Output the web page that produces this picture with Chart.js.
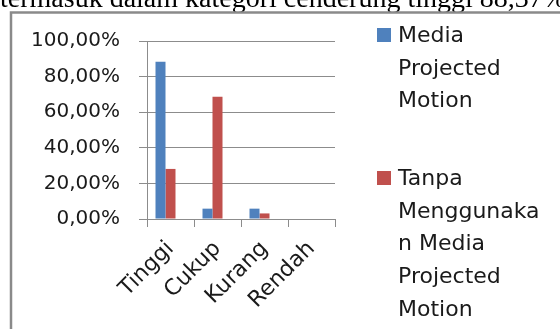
<!DOCTYPE html>
<html>
<head>
<meta charset="utf-8">
<script src="https://cdn.jsdelivr.net/npm/chart.js@4/dist/chart.umd.min.js"></script>
<style>
  html, body { margin: 0; padding: 0; background: #fff; overflow: hidden; }
  canvas { display: block; }
</style>
</head>
<body>
<canvas id="chart" width="560" height="329"></canvas>
<script>
// Categories and series values (percent)
const categories = ['Tinggi', 'Cukup', 'Kurang', 'Rendah'];
const mediaProjected = [88.37, 5.81, 5.81, 0];
const tanpaMedia = [28.13, 68.75, 3.13, 0];
// Third, empty column slot of the source worksheet (keeps the bar cluster placement)
const emptySlot = [null, null, null, null];

const seriesNames = ['Media Projected Motion', 'Tanpa Menggunakan Media Projected Motion'];
const legendLines = [
  ['Media', 'Projected', 'Motion'],
  ['Tanpa', 'Menggunaka', 'n Media', 'Projected', 'Motion']
];
const yTicks = [0, 20, 40, 60, 80, 100];
const captionText = 'termasuk dalam kategori cenderung tinggi 88,37%';

const gridColor = '#8c8c8c';
const textColor = '#1a1a1a';

function pct(v) {
  return v.toFixed(2).replace('.', ',') + '%';
}

// White page, caption line of the surrounding document and the chart frame
const framePlugin = {
  id: 'frame',
  beforeDraw(chart) {
    const ctx = chart.ctx;
    ctx.save();
    ctx.fillStyle = '#fff';
    ctx.fillRect(0, 0, chart.width, chart.height);
    ctx.fillStyle = '#000';
    ctx.font = '28px "Liberation Serif"';
    ctx.textBaseline = 'alphabetic';
    ctx.fillText(captionText, 0, 7);
    ctx.strokeStyle = '#8a8a8a';
    ctx.lineWidth = 2.5;
    ctx.beginPath();
    ctx.moveTo(11, chart.height + 2);
    ctx.lineTo(11, 12.5);
    ctx.lineTo(chart.width + 2, 12.5);
    ctx.stroke();
    ctx.restore();
  }
};

// Legend on the right with wrapped labels
const sideLegend = {
  id: 'sideLegend',
  afterDraw(chart) {
    const ctx = chart.ctx;
    const baselines = [42, 185];
    ctx.save();
    ctx.font = '22px "DejaVu Sans"';
    ctx.textBaseline = 'alphabetic';
    legendLines.forEach((lines, i) => {
      const ds = chart.data.datasets[i];
      const y = baselines[i];
      ctx.fillStyle = ds.backgroundColor;
      ctx.fillRect(377, y - 14, 14, 14);
      ctx.fillStyle = textColor;
      lines.forEach((ln, k) => ctx.fillText(ln, 398, y + k * 32.7));
    });
    ctx.restore();
  }
};

new Chart(document.getElementById('chart'), {
  type: 'bar',
  data: {
    labels: categories,
    datasets: [
      { label: seriesNames[0], data: mediaProjected, backgroundColor: '#4f81bd' },
      { label: seriesNames[1], data: tanpaMedia, backgroundColor: '#c0504d' },
      { label: '', data: emptySlot, backgroundColor: 'rgba(0,0,0,0)' }
    ]
  },
  options: {
    responsive: false,
    animation: false,
    devicePixelRatio: 1,
    layout: { padding: { top: 41, right: 225, left: 0, bottom: 0 } },
    datasets: { bar: { categoryPercentage: 30 / 47, barPercentage: 1, borderWidth: 0 } },
    plugins: {
      legend: { display: false },
      tooltip: { enabled: false }
    },
    scales: {
      x: {
        grid: {
          offset: true,
          drawOnChartArea: false,
          drawTicks: true,
          tickLength: 8,
          color: gridColor
        },
        border: { display: true, color: gridColor, width: 1 },
        ticks: {
          minRotation: 45,
          maxRotation: 45,
          padding: 9,
          color: textColor,
          font: { family: 'DejaVu Sans', size: 22 }
        },
        afterFit(scale) { scale.height = 110; }
      },
      y: {
        min: 0,
        max: 100,
        afterBuildTicks(scale) { scale.ticks = yTicks.map(v => ({ value: v })); },
        grid: { color: gridColor, drawTicks: true, tickLength: 8 },
        border: { display: true, color: gridColor, width: 1 },
        ticks: {
          padding: 19,
          color: textColor,
          font: { family: 'DejaVu Sans', size: 20 },
          callback: v => pct(v)
        },
        afterFit(scale) { scale.width = 147; }
      }
    }
  },
  plugins: [framePlugin, sideLegend]
});
</script>
</body>
</html>
